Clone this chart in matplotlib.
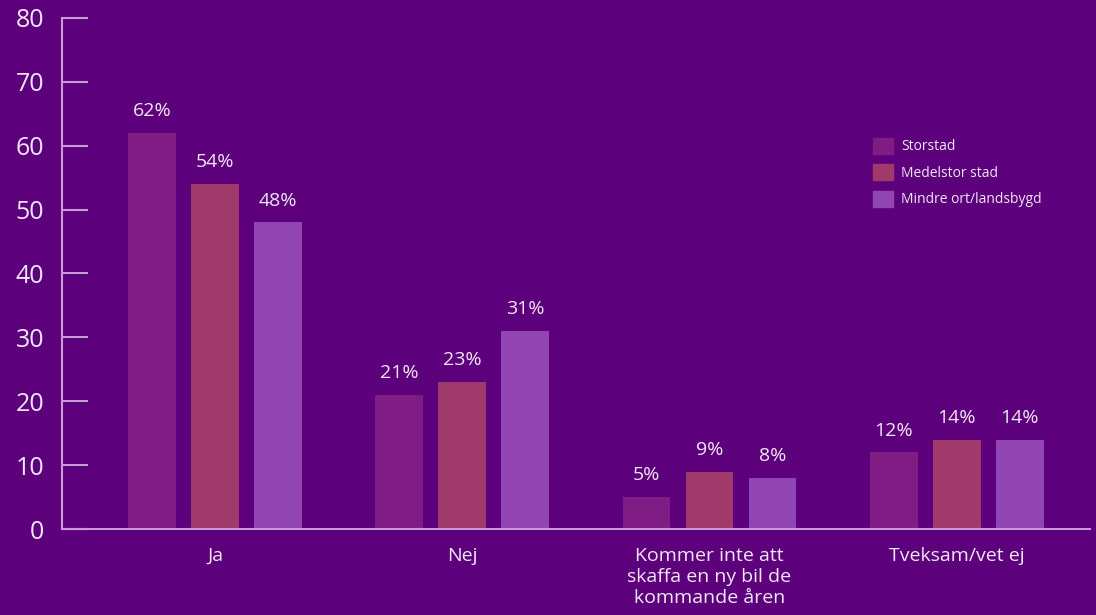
import matplotlib.pyplot as plt
import numpy as np
from matplotlib.patches import Patch

categories = ["Ja", "Nej", "Kommer inte att\nskaffa en ny bil de\nkommande åren", "Tveksam/vet ej"]
series_names = ["Storstad", "Medelstor stad", "Mindre ort/landsbygd"]
storstad = [62, 21, 5, 12]
medelstor = [54, 23, 9, 14]
mindre = [48, 31, 8, 14]
yticks = [0, 10, 20, 30, 40, 50, 60, 70, 80]

bg = "#5d007b"
colors = ["#801d84", "#a03a6a", "#9145b3"]
line_col = "#c99ad8"
text_col = "#f3e6f5"

plt.rcParams['font.family'] = ['Open Sans', 'DejaVu Sans']

fig = plt.figure(figsize=(10.96, 6.15), dpi=100, facecolor=bg)
ax = fig.add_axes([0.0566, 0.1398, 0.938, 0.831])
ax.set_facecolor(bg)

x = np.arange(len(categories))
width = 0.194
offset = 0.255
for i, (name, vals) in enumerate(zip(series_names, [storstad, medelstor, mindre])):
    pos = x + (i - 1) * offset
    bars = ax.bar(pos, vals, width, color=colors[i], label=name)
    for b, v in zip(bars, vals):
        ax.text(b.get_x() + b.get_width() / 2, v + 2.0, "{0}%".format(v),
                ha="center", va="bottom", color=text_col, fontsize=14)

ax.set_xlim(-0.62, 3.54)
ax.set_ylim(0, 80)
ax.set_yticks(yticks)
ax.set_xticks(x)
ax.set_xticklabels(categories, color=text_col, fontsize=14, linespacing=1.2)
ax.tick_params(axis="x", length=0, pad=13)
ax.tick_params(axis="y", direction="in", length=19, width=1.5, color=line_col,
               labelcolor=text_col, labelsize=18, pad=13)
for s in ["top", "right"]:
    ax.spines[s].set_visible(False)
for s in ["left", "bottom"]:
    ax.spines[s].set_color(line_col)
    ax.spines[s].set_linewidth(1.5)

handles = [Patch(color=c, label=n) for c, n in zip(colors, series_names)]
leg = ax.legend(handles=handles, loc="upper left", bbox_to_anchor=(0.777, 0.79),
                frameon=False, fontsize=10, handlelength=1.4, handleheight=1.4,
                handletextpad=0.6, labelspacing=0.7)
for t in leg.get_texts():
    t.set_color(text_col)

fig.savefig("out.png", facecolor=bg)
